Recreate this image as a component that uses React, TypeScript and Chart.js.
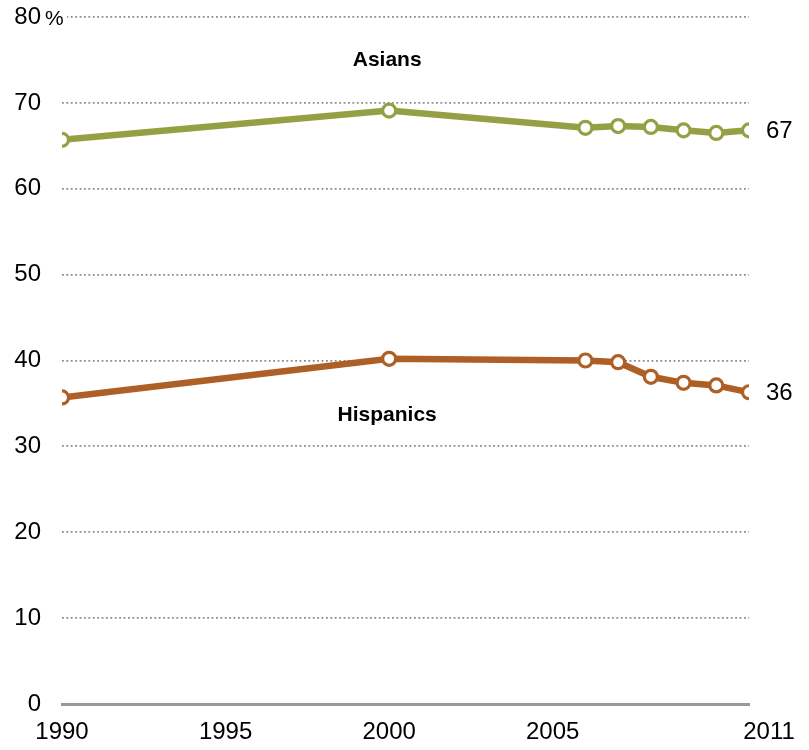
import React, { useEffect, useRef } from "react";
import { Chart, registerables } from "chart.js";

Chart.register(...registerables);

const years = [1990, 2000, 2006, 2007, 2008, 2009, 2010, 2011];
const asians = [65.7, 69.1, 67.1, 67.3, 67.2, 66.8, 66.5, 66.8];
const hispanics = [35.7, 40.2, 40.0, 39.8, 38.1, 37.4, 37.1, 36.3];
const seriesNames = ["Asians", "Hispanics"];
const seriesColors = ["#95a044", "#ad5f26"];
const xTickValues = [1990, 1995, 2000, 2005, 2011];
const yTickValues = [0, 10, 20, 30, 40, 50, 60, 70, 80];
const seriesLabelAt = [
  { x: 2000, y: 75 },
  { x: 2000, y: 33.6 },
];

const TICK_FONT = "'Liberation Sans', Arial, sans-serif";
const LABEL_FONT = "'Liberation Sans', Arial, sans-serif";

const overlay = {
  id: "overlay",
  afterDatasetsDraw(chart: any) {
    const ctx = chart.ctx as CanvasRenderingContext2D;
    const xs = chart.scales.x;
    const ys = chart.scales.y;
    ctx.save();
    // percent sign after top tick
    const y80 = ys.getPixelForValue(yTickValues[yTickValues.length - 1]);
    ctx.fillStyle = "#fff";
    ctx.fillRect(43, y80 - 6, 24, 12);
    ctx.fillStyle = "#000";
    ctx.font = `21px ${TICK_FONT}`;
    ctx.textAlign = "left";
    ctx.textBaseline = "middle";
    ctx.fillText("%", 45, y80 + 2);

    // end labels
    chart.data.datasets.forEach((ds: any, i: number) => {
      const meta = chart.getDatasetMeta(i);
      const last = meta.data[meta.data.length - 1];
      const v = ds.data[ds.data.length - 1].y;
      ctx.font = `24px ${TICK_FONT}`;
      ctx.fillStyle = "#000";
      ctx.textAlign = "left";
      ctx.textBaseline = "middle";
      ctx.fillText(String(Math.round(v)), last.x + 17, last.y + 1);
    });

    // series labels
    seriesNames.forEach((name, i) => {
      ctx.font = `bold 21px ${LABEL_FONT}`;
      ctx.fillStyle = "#000";
      ctx.textAlign = "center";
      ctx.textBaseline = "middle";
      ctx.fillText(
        name,
        xs.getPixelForValue(seriesLabelAt[i].x) - 2,
        ys.getPixelForValue(seriesLabelAt[i].y)
      );
    });
    ctx.restore();
  },
};

export default function App() {
  const ref = useRef<HTMLCanvasElement | null>(null);

  useEffect(() => {
    if (!ref.current) return;
    const mk = (vals: number[]) => years.map((yr, i) => ({ x: yr, y: vals[i] }));
    const chart = new Chart(ref.current, {
      type: "line",
      data: {
        datasets: [asians, hispanics].map((vals, i) => ({
          label: seriesNames[i],
          data: mk(vals),
          borderColor: seriesColors[i],
          backgroundColor: "#fff",
          borderWidth: 6.5,
          pointRadius: 6.5,
          pointBorderWidth: 3.2,
          pointBackgroundColor: "#fff",
          pointBorderColor: seriesColors[i],
          tension: 0,
        })),
      },
      options: {
        animation: false,
        responsive: false,
        layout: { padding: { top: 17, right: 60, left: 0, bottom: 0 } },
        plugins: {
          legend: { display: false },
          tooltip: { enabled: false },
        },
        scales: {
          x: {
            type: "linear",
            min: 1990,
            max: 2011,
            afterBuildTicks: (s: any) => {
              s.ticks = xTickValues.map((v) => ({ value: v }));
            },
            afterFit: (s: any) => {
              s.height = 46;
              s.paddingLeft = 0;
              s.paddingRight = 0;
            },
            grid: { display: false, drawTicks: false },
            border: { display: true, color: "#999", width: 3 },
            ticks: {
              padding: 14,
              color: "#000",
              font: { family: TICK_FONT, size: 24 },
              maxRotation: 0,
              callback: (v: any) =>
                v === xTickValues[xTickValues.length - 1] ? "      " + v : String(v),
            },
          },
          y: {
            type: "linear",
            min: 0,
            max: 80,
            afterBuildTicks: (s: any) => {
              s.ticks = yTickValues.map((v) => ({ value: v }));
            },
            afterFit: (s: any) => {
              s.width = 62;
              s.paddingTop = 0;
              s.paddingBottom = 0;
            },
            grid: {
              drawTicks: false,
              color: (c: any) => (c.tick && c.tick.value === 0 ? "rgba(0,0,0,0)" : "#8a8a8a"),
              lineWidth: 1.8,
            },
            border: { display: false, dash: [1.8, 2.6] },
            ticks: {
              padding: 21,
              color: "#000",
              font: { family: TICK_FONT, size: 24 },
              callback: (v: any) => String(v),
            },
          },
        },
      },
      plugins: [overlay],
    });
    return () => chart.destroy();
  }, []);

  return (
    <div style={{ position: "fixed", left: 0, top: 0, width: 809, height: 750, background: "#fff" }}>
      <canvas ref={ref} width={809} height={750} style={{ display: "block" }} />
    </div>
  );
}
